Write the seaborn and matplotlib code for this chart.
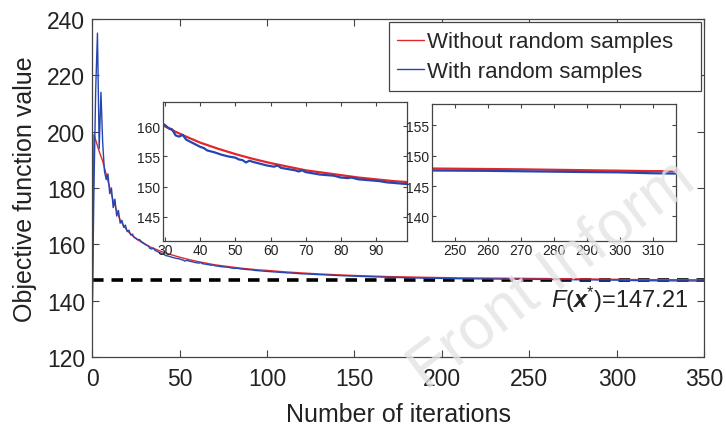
import numpy as np
import pandas as pd
import matplotlib
matplotlib.use("Agg")
import matplotlib.pyplot as plt
import seaborn as sns

# iterations / objective values
red_x = [0, 1, 2, 3, 4, 6, 9, 12, 16, 20, 22, 25, 28, 30, 33, 36, 40, 45, 50, 55,
         60, 65, 70, 75, 80, 85, 90, 95, 100, 110, 120, 130, 140, 150, 170, 190,
         210, 230, 250, 270, 290, 310, 330, 350]
red_y = [133, 199, 197, 195, 193, 189.5, 182.5, 175.5, 168.5, 164.8, 163.6, 162.0,
         160.8, 160.0, 159.1, 158.3, 157.3, 156.3, 155.4, 154.6, 153.9, 153.3,
         152.7, 152.3, 151.9, 151.5, 151.2, 150.9, 150.7, 150.2, 149.8, 149.45,
         149.15, 148.9, 148.5, 148.25, 148.05, 147.95, 147.85, 147.75, 147.6,
         147.45, 147.4, 147.35]

blue_x = [0, 1, 2, 3, 4, 5, 6, 7, 8, 9, 10, 11, 12, 13, 14, 15, 16, 17, 18, 19,
          20, 21, 22, 23, 24, 25, 26, 27, 28, 29, 30, 31, 32, 33, 34, 35, 36, 37,
          38, 39, 40, 41, 42, 44, 46, 48, 50, 51, 52, 53, 54, 55, 57, 59, 61, 62,
          63, 65, 67, 68, 69, 70, 72, 74, 76, 78, 80, 82, 83, 85, 87, 89, 91, 93,
          95, 97, 99, 100, 110, 120, 130, 140, 150, 170, 190, 210, 230, 245, 260,
          275, 290, 300, 310, 317, 330, 350]
blue_y = [133, 180, 215, 235, 194, 214, 196, 186, 183, 185, 178, 180, 173, 176,
          170, 172, 167.5, 168.5, 166, 166.8, 164.5, 165, 163.3, 163.6, 162.4,
          162.2, 161.6, 161.7, 161.0, 160.6, 160.2, 159.7, 159.5, 158.5, 158.3,
          158.6, 157.8, 157.5, 157.2, 156.9, 156.6, 156.4, 156.0, 155.7, 155.3,
          155.0, 154.8, 154.5, 154.4, 154.0, 154.3, 154.1, 153.8, 153.5, 153.3,
          153.5, 153.1, 152.9, 152.7, 152.5, 152.7, 152.4, 152.2, 152.0, 151.9,
          151.8, 151.5, 151.4, 151.5, 151.2, 151.1, 151.0, 150.9, 150.7, 150.6,
          150.5, 150.4, 150.35, 149.9, 149.5, 149.2, 148.9, 148.65, 148.25, 147.95,
          147.75, 147.65, 147.55, 147.5, 147.4, 147.3, 147.25, 147.1, 147.05,
          147.0, 146.95]

f_star = 147.21
labels = ["Without random samples", "With random samples"]
red_c = "#e3262c"
blue_c = "#2446b0"

df = pd.concat([
    pd.DataFrame({"iter": red_x, "value": red_y, "run": labels[0]}),
    pd.DataFrame({"iter": blue_x, "value": blue_y, "run": labels[1]}),
])

sns.set_style("ticks")
plt.rcParams["font.family"] = ["Liberation Sans", "DejaVu Sans"]
plt.rcParams["mathtext.fontset"] = "custom"
plt.rcParams["mathtext.rm"] = "Liberation Sans"
plt.rcParams["mathtext.it"] = "Liberation Sans:italic"
plt.rcParams["mathtext.bf"] = "Liberation Sans:bold"
plt.rcParams["mathtext.bfit"] = "Liberation Sans:italic:bold"

spine_c = "#444444"
text_c = "#222222"


def style_axes(ax, size, ticklen):
    for s in ax.spines.values():
        s.set_color(spine_c)
        s.set_linewidth(0.9)
    ax.tick_params(direction="in", top=True, right=True, length=ticklen,
                   width=0.8, color=spine_c, labelsize=size, labelcolor=text_c)


fig = plt.figure(figsize=(7.26, 4.27), dpi=100)
ax = fig.add_axes([0.127, 0.162, 0.843, 0.791])
sns.lineplot(data=df, x="iter", y="value", hue="run", palette=[red_c, blue_c],
             linewidth=1.0, ax=ax, sort=False, estimator=None)
ax.axhline(f_star, color="black", linestyle=(0, (3.2, 2.2)), linewidth=2.6, zorder=1)
ax.set_xlim(0, 350)
ax.set_ylim(120, 240)
ax.set_xticks(range(0, 351, 50))
ax.set_yticks(range(120, 241, 20))
ax.set_xlabel("Number of iterations", fontsize=18, color=text_c, labelpad=9)
ax.set_ylabel("Objective function value", fontsize=18, color=text_c, labelpad=7)
style_axes(ax, 16.5, 5)
ax.tick_params(axis="x", pad=7)
ax.tick_params(axis="y", pad=5)
ax.text(341, 140.5, r"$F(\mathbfit{x}^{*})$=147.21", fontsize=17, ha="right",
        va="center", color=text_c)

# legend box in the reference has extra room on its right side
handles, _ = ax.get_legend_handles_labels()
leg = ax.legend(handles, [lab + "   " for lab in labels], loc="upper right",
                fontsize=16, frameon=True, fancybox=False, edgecolor=spine_c,
                framealpha=1, handlelength=1.2, handletextpad=0.15,
                borderpad=0.4, labelspacing=0.4, borderaxespad=0.15)
leg.get_frame().set_linewidth(0.9)
for line in leg.get_lines():
    line.set_linewidth(1.0)

# zoomed insets
inset_specs = [
    ([0.224, 0.434, 0.336, 0.324], (29.3, 98.7), (141, 164),
     range(30, 91, 10), range(145, 161, 5)),
    ([0.5946, 0.434, 0.3365, 0.320], (243, 317), (136, 158.5),
     range(250, 311, 10), range(140, 156, 5)),
]
for rect, xl, yl, xt, yt in inset_specs:
    ins = fig.add_axes(rect)
    sns.lineplot(data=df, x="iter", y="value", hue="run", palette=[red_c, blue_c],
                 linewidth=1.6, ax=ins, sort=False, estimator=None, legend=False)
    ins.set_xlim(*xl)
    ins.set_ylim(*yl)
    ins.set_xticks(list(xt))
    ins.set_yticks(list(yt))
    ins.set_xlabel("")
    ins.set_ylabel("")
    style_axes(ins, 10, 3)
    ins.tick_params(pad=2)

# faint watermark
fig.text(0.548, 0.06, "Front Inform", fontsize=45, rotation=37, color="#e4e4e4",
         alpha=0.8, ha="left", va="bottom", zorder=0)

fig.savefig("out.png", dpi=100)
